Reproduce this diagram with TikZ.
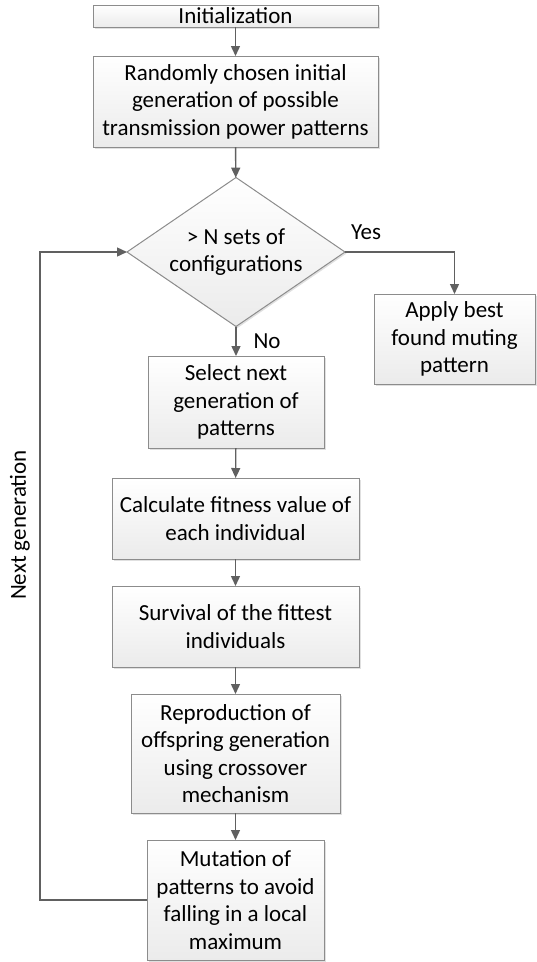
\documentclass[tikz,border=0pt]{standalone}
\usepackage{fontspec}
\setmainfont{Carlito}
\usetikzlibrary{arrows.meta,shapes.geometric,shadows}

\definecolor{edgegray}{HTML}{8C8C8C}
\definecolor{arrowgray}{HTML}{606060}
\definecolor{fillbottom}{HTML}{EBEBEB}

\tikzset{
  stepbox/.style={draw=edgegray, line width=1pt, rectangle, inner sep=0pt, outer sep=0pt,
    top color=white, bottom color=fillbottom, align=center,
    drop shadow={shadow xshift=1.5pt, shadow yshift=-1.5pt, opacity=0.12, fill=black}},
  decision/.style={stepbox, diamond, aspect=1.46},
  flow/.style={draw=arrowgray, line width=1.4pt, -{Triangle[length=10pt,width=9pt]}},
  plainlabel/.style={inner sep=0pt, outer sep=0pt}
}

\begin{document}
\begin{tikzpicture}[x=1pt, y=-1pt, font=\fontsize{23}{27.5}\selectfont]
\useasboundingbox (0,0) rectangle (537,962);

% process chain
\node[stepbox, minimum width=285pt, minimum height=22pt] (init) at (235.5,16) {Initialization};
\node[stepbox, minimum width=285pt, minimum height=91pt] (rand) at (235.5,101.5)
  {Randomly chosen initial\\generation of possible\\transmission power patterns};
\node[decision, minimum width=218pt, minimum height=149pt] (dec) at (236,252)
  {> N sets of\\configurations};
\node[stepbox, minimum width=161pt, minimum height=90pt] (apply) at (454.5,339)
  {Apply best\\found muting\\pattern};
\node[stepbox, minimum width=176pt, minimum height=92pt] (sel) at (236,402)
  {Select next\\generation of\\patterns};
\node[stepbox, minimum width=247pt, minimum height=81pt] (calc) at (235.5,518.5)
  {Calculate fitness value of\\each individual};
\node[stepbox, minimum width=247pt, minimum height=81pt] (surv) at (235.5,626.5)
  {Survival of the fittest\\individuals};
\node[stepbox, minimum width=209pt, minimum height=119pt] (repr) at (235.5,753.5)
  {Reproduction of\\offspring generation\\using crossover\\mechanism};
\node[stepbox, minimum width=177pt, minimum height=120pt] (mut) at (235.5,900)
  {Mutation of\\patterns to avoid\\falling in a local\\maximum};

% labels
\node[plainlabel] (yes) at (366,232) {Yes};
\node[plainlabel] (no) at (267,341) {No};
\node[plainlabel, rotate=90] (nextgen) at (20,525) {Next generation};

% return path of the loop
\coordinate (loopx) at (40,0);

% connectors
\draw[flow] (init) -- (rand);
\draw[flow] (rand) -- (dec);
\draw[flow] (dec.south) -- (sel);
\draw[flow] (dec.east) -| (apply.north);
\draw[flow] (sel) -- (calc);
\draw[flow] (calc) -- (surv);
\draw[flow] (surv) -- (repr);
\draw[flow] (repr) -- (mut);
\draw[flow] (mut.west) -- (mut.west -| loopx) |- (dec.west);
\end{tikzpicture}
\end{document}
